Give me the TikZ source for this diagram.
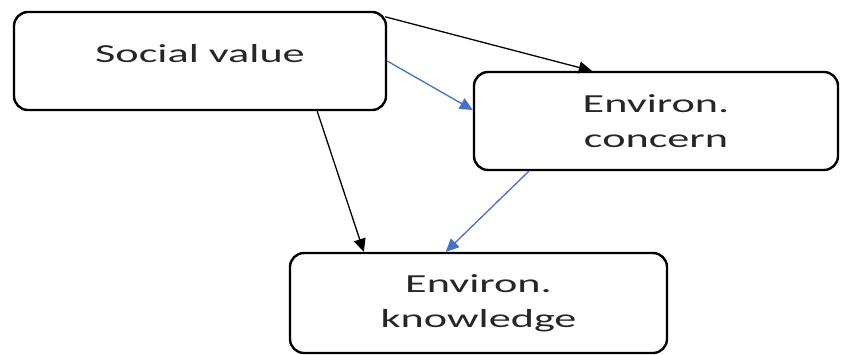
\documentclass[tikz,border=0pt]{standalone}
\usepackage{fontspec}
\setmainfont{Carlito}[FakeStretch=1.7]
\usepackage{xcolor}
\usepackage{tikz}
\usetikzlibrary{positioning,calc,arrows.meta}

\definecolor{linkblue}{HTML}{4472C4}

\begin{document}
\begin{tikzpicture}[x=1pt, y=-1pt,
        box/.style={draw, line width=2.4pt, rounded corners=14pt, align=center,
            text=black!85, font=\fontsize{26}{35}\selectfont},
        link/.style={line width=1.3pt, -{Triangle[length=13pt,width=12pt]}}]
        \useasboundingbox (0,0) rectangle (842,354);

        \node[box, minimum width=372pt, inner sep=0pt, text height=50pt, text depth=48pt] (social) at (200,61) {Social value};
        \node[box, minimum width=364pt, minimum height=98pt] (concern) at (656,121) {Environ.\\concern};
        \node[box, minimum width=377pt, minimum height=100pt] (knowledge) at (478.5,303) {Environ.\\knowledge};

        % social value -> concern, knowledge
        \draw[link] ($(social.north east)+(-2,6)$) -- ($(concern.north west)+(119,0)$);
        \draw[link, linkblue] (social.east) -- ($(concern.west)+(0,-11)$);
        \draw[link] ($(social.south east)+(-70,0)$) -- ($(knowledge.north west)+(75,0)$);

        % concern -> knowledge
        \draw[link, linkblue] ($(concern.south west)+(56,0)$) -- ($(knowledge.north west)+(157,0)$);
    \end{tikzpicture}
\end{document}
